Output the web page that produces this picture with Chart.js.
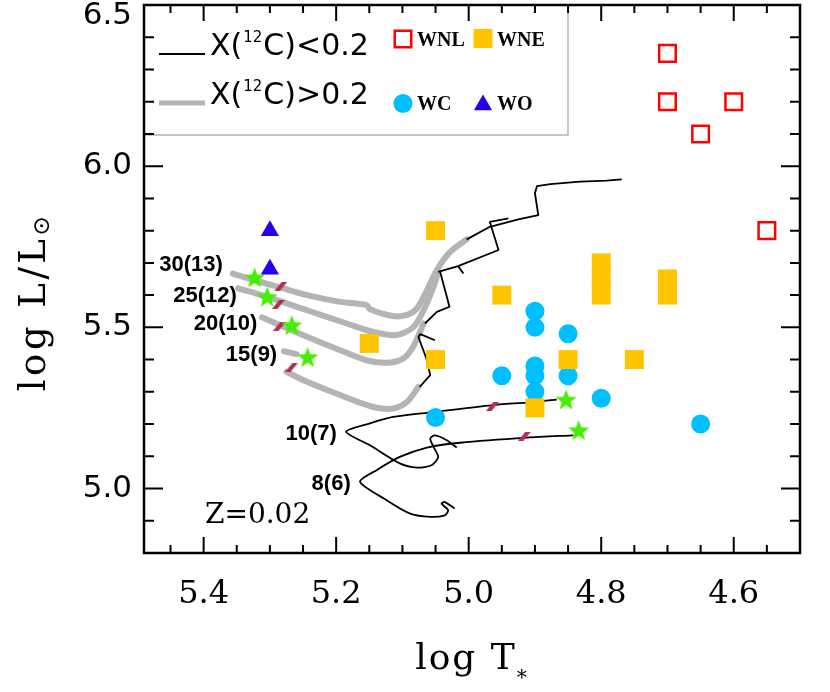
<!DOCTYPE html>
<html>
<head>
<meta charset="utf-8">
<script src="https://cdn.jsdelivr.net/npm/chart.js@4.4.1/dist/chart.umd.min.js"></script>
<style>
  html, body { margin: 0; padding: 0; background: #fff; }
</style>
</head>
<body>
<canvas id="hrd" width="830" height="692"></canvas>
<script>
// axis ticks
const xTicks = [5.4, 5.2, 5.0, 4.8, 4.6];
const yTicks = [5.0, 5.5, 6.0, 6.5];

// observed WR stars (log T*, log L)
const wnlT = [4.70, 4.70, 4.60, 4.65, 4.55];
const wnlL = [6.35, 6.20, 6.20, 6.10, 5.80];
const wneT = [5.05, 4.95, 4.80, 4.80, 4.80, 4.70, 4.70, 5.15, 5.05, 4.85, 4.75, 4.90];
const wneL = [5.80, 5.60, 5.70, 5.65, 5.60, 5.65, 5.60, 5.45, 5.40, 5.40, 5.40, 5.25];
const wcT = [4.90, 4.90, 4.85, 4.95, 4.90, 4.90, 4.90, 4.85, 4.80, 5.05, 4.65];
const wcL = [5.55, 5.50, 5.48, 5.35, 5.38, 5.35, 5.30, 5.35, 5.28, 5.22, 5.20];
const woT = [5.30, 5.30];
const woL = [5.80, 5.68];

// end of tracks (stars) and marks along tracks
const endT = [5.323, 5.304, 5.267, 5.243, 4.853, 4.834];
const endL = [5.655, 5.595, 5.507, 5.408, 5.276, 5.181];
const markT = [5.284, 5.287, 5.286, 5.267, 4.964, 4.916];
const markL = [5.626, 5.572, 5.502, 5.377, 5.255, 5.162];

// tracks: gray = X(12C)>0.2, black = X(12C)<0.2
const t30gT = [5.356, 5.320, 5.285, 5.244, 5.194, 5.154, 5.149, 5.114, 5.093, 5.078, 5.063, 5.048, 5.028, 5.003];
const t30gL = [5.667, 5.644, 5.624, 5.600, 5.579, 5.569, 5.556, 5.535, 5.539, 5.559, 5.615, 5.678, 5.734, 5.773];
const t30bT = [5.003, 4.968, 4.925, 4.895, 4.900, 4.897, 4.877, 4.832, 4.792, 4.769];
const t30bL = [5.773, 5.812, 5.835, 5.848, 5.916, 5.938, 5.944, 5.952, 5.955, 5.959];

const t25gT = [5.348, 5.305, 5.244, 5.184, 5.144, 5.109, 5.084, 5.068, 5.053, 5.046];
const t25gL = [5.621, 5.595, 5.553, 5.512, 5.486, 5.476, 5.500, 5.553, 5.626, 5.672];
const t25bT = [5.046, 5.016, 4.955, 4.968, 4.940];
const t25bL = [5.672, 5.690, 5.740, 5.827, 5.838];
const t25hT = [5.016, 5.008];
const t25hL = [5.690, 5.667];

const t20gT = [5.312, 5.285, 5.244, 5.194, 5.154, 5.124, 5.099, 5.084, 5.068];
const t20gL = [5.531, 5.507, 5.471, 5.429, 5.398, 5.390, 5.403, 5.439, 5.512];
const t20bT = [5.066, 5.048, 5.029, 5.043];
const t20bL = [5.512, 5.548, 5.564, 5.672];

const t15gT = [5.275, 5.244, 5.194, 5.144, 5.114, 5.093, 5.076];
const t15gL = [5.362, 5.331, 5.290, 5.253, 5.248, 5.269, 5.315];
const t15sT = [5.279, 5.260];
const t15sL = [5.426, 5.417];
const t15bT = [5.074, 5.058, 5.064, 5.076, 5.073, 5.051];
const t15bL = [5.315, 5.352, 5.404, 5.471, 5.479, 5.460];

const t10T = [5.018, 5.033, 5.051, 5.058, 5.053, 5.046, 5.056, 5.078, 5.104, 5.149, 5.185, 5.149, 5.114, 5.063, 4.963, 4.897, 4.867];
const t10L = [5.127, 5.150, 5.165, 5.155, 5.129, 5.098, 5.072, 5.065, 5.078, 5.134, 5.176, 5.202, 5.222, 5.235, 5.259, 5.269, 5.276];
const t8T = [5.021, 5.036, 5.041, 5.031, 5.036, 5.058, 5.088, 5.124, 5.164, 5.139, 5.104, 5.063, 5.013, 4.912, 4.842];
const t8L = [4.938, 4.958, 4.953, 4.933, 4.917, 4.912, 4.922, 4.964, 5.021, 5.057, 5.098, 5.127, 5.142, 5.158, 5.165];

// track labels: text, log T, log L (right aligned)
const trackLabels = ['30(13)', '25(12)', '20(10)', '15(9)', '10(7)', '8(6)'];
const labelT = [5.371, 5.350, 5.319, 5.289, 5.199, 5.178];
const labelL = [5.695, 5.598, 5.512, 5.414, 5.170, 5.015];

const pts = (xs, ys) => xs.map((x, i) => ({ x, y: ys[i] }));

function starImage(r, color) {
  const c = document.createElement('canvas');
  c.width = c.height = Math.ceil(2 * r + 2);
  const g = c.getContext('2d');
  g.translate(c.width / 2, c.height / 2 + 1);
  g.beginPath();
  for (let i = 0; i < 10; i++) {
    const rr = i % 2 ? r * 0.42 : r;
    const a = -Math.PI / 2 + i * Math.PI / 5;
    g.lineTo(rr * Math.cos(a), rr * Math.sin(a));
  }
  g.closePath();
  g.fillStyle = color;
  g.fill();
  return c;
}

function dashImage(color) {
  const c = document.createElement('canvas');
  c.width = 13; c.height = 9;
  const g = c.getContext('2d');
  g.fillStyle = color;
  g.beginPath();
  g.moveTo(0, 9); g.lineTo(5.5, 9); g.lineTo(13, 0); g.lineTo(7.5, 0);
  g.closePath();
  g.fill();
  return c;
}

const GRAY = '#b4b4b4';
const gray = (xs, ys) => ({ data: pts(xs, ys), showLine: true, borderColor: GRAY, borderWidth: 6,
  pointRadius: 0, tension: 0.3, borderCapStyle: 'round', borderJoinStyle: 'round', order: 6 });
const black = (xs, ys, t) => ({ data: pts(xs, ys), showLine: true, borderColor: '#000', borderWidth: 1.8,
  pointRadius: 0, tension: t || 0, borderJoinStyle: 'round', order: 5 });

const datasets = [
  gray(t30gT, t30gL), gray(t25gT, t25gL), gray(t20gT, t20gL), gray(t15gT, t15gL), gray(t15sT, t15sL),
  black(t30bT, t30bL), black(t25bT, t25bL), black(t25hT, t25hL), black(t20bT, t20bL), black(t15bT, t15bL),
  black(t10T, t10L, 0.25), black(t8T, t8L, 0.25),
  { data: pts(markT, markL), pointStyle: dashImage('#b03050'), order: 3 },
  { data: pts(endT, endL), pointStyle: starImage(11, '#44ee00'), order: 2 },
  { data: pts(wnlT, wnlL), pointStyle: 'rect', pointRadius: 11.7, pointBackgroundColor: 'rgba(0,0,0,0)',
    pointBorderColor: '#ff0000', pointBorderWidth: 2.5, order: 1 },
  { data: pts(wneT, wneL), pointStyle: 'rect', pointRadius: 13.4, pointBackgroundColor: '#ffc400',
    pointBorderWidth: 0, order: 1 },
  { data: pts(wcT, wcL), pointStyle: 'circle', pointRadius: 9.5, pointBackgroundColor: '#00bfff',
    pointBorderWidth: 0, order: 1 },
  { data: pts(woT, woL), pointStyle: 'triangle', pointRadius: 10.5, pointBackgroundColor: '#2200ee',
    pointBorderWidth: 0, order: 1 }
];

const decor = {
  id: 'decor',
  afterDatasetsDraw(chart) {
    const { ctx, scales: { x, y } } = chart;
    ctx.save();
    ctx.fillStyle = '#000';
    ctx.font = 'bold 22px "Liberation Sans"';
    ctx.textAlign = 'right';
    ctx.textBaseline = 'middle';
    trackLabels.forEach((s, i) => ctx.fillText(s, x.getPixelForValue(labelT[i]), y.getPixelForValue(labelL[i])));
    ctx.textAlign = 'left';
    ctx.textBaseline = 'alphabetic';
    ctx.font = '28px "DejaVu Serif"';
    ctx.fillText('Z=0.02', x.getPixelForValue(5.398), y.getPixelForValue(4.893));
    ctx.restore();
  },
  afterDraw(chart) {
    const { ctx, chartArea: a, scales: { x, y } } = chart;
    ctx.save();
    // legend box
    ctx.strokeStyle = '#a0a0a0';
    ctx.lineWidth = 1.2;
    ctx.strokeRect(a.left, a.top, 424, 130);
    ctx.strokeStyle = '#000'; ctx.lineWidth = 2;
    ctx.beginPath(); ctx.moveTo(159, 54); ctx.lineTo(205, 54); ctx.stroke();
    ctx.strokeStyle = GRAY; ctx.lineWidth = 5;
    ctx.beginPath(); ctx.moveTo(159, 103); ctx.lineTo(205, 103); ctx.stroke();
    ctx.fillStyle = '#000';
    const carbon = (x0, base, rel) => {
      let cx = x0;
      ctx.font = '30px "DejaVu Sans"';
      ctx.fillText('X(', cx, base); cx += ctx.measureText('X(').width + 1;
      ctx.font = '15px "DejaVu Sans"';
      ctx.fillText('12', cx, base - 13); cx += ctx.measureText('12').width + 1;
      ctx.font = '30px "DejaVu Sans"';
      ctx.fillText('C)' + rel + '0.2', cx, base);
    };
    carbon(210, 55, '<');
    carbon(210, 104, '>');
    const P = Chart.helpers.drawPoint;
    ctx.strokeStyle = '#ff0000'; ctx.lineWidth = 2.5; ctx.fillStyle = 'rgba(0,0,0,0)';
    P(ctx, { pointStyle: 'rect', radius: 11.7, borderWidth: 2.5 }, 403, 39);
    ctx.fillStyle = '#ffc400'; ctx.lineWidth = 0;
    P(ctx, { pointStyle: 'rect', radius: 13.4, borderWidth: 0 }, 483, 38.5);
    ctx.fillStyle = '#00bfff';
    P(ctx, { pointStyle: 'circle', radius: 9.5, borderWidth: 0 }, 403, 103.5);
    ctx.fillStyle = '#2200ee';
    P(ctx, { pointStyle: 'triangle', radius: 10.5, borderWidth: 0 }, 483, 105);
    ctx.fillStyle = '#000';
    ctx.font = 'bold 20px "Liberation Serif"';
    ctx.fillText('WNL', 417, 46); ctx.fillText('WNE', 497, 46);
    ctx.fillText('WC', 417, 110); ctx.fillText('WO', 497, 110);

    // frame and inward ticks
    ctx.strokeStyle = '#000';
    ctx.lineWidth = 2.5;
    ctx.strokeRect(a.left, a.top, a.right - a.left, a.bottom - a.top);
    ctx.lineWidth = 2;
    ctx.beginPath();
    for (let i = 0; i <= 19; i++) {
      const v = 4.5 + i * 0.05;
      const px = x.getPixelForValue(v);
      const len = (i % 4 === 2) ? 16 : 8;
      ctx.moveTo(px, a.bottom); ctx.lineTo(px, a.bottom - len);
      ctx.moveTo(px, a.top); ctx.lineTo(px, a.top + len);
    }
    for (let i = 0; i <= 17; i++) {
      const v = 4.8 + i * 0.1;
      const py = y.getPixelForValue(v);
      const len = (i % 5 === 2) ? 19 : 10;
      ctx.moveTo(a.left, py); ctx.lineTo(a.left + len, py);
      ctx.moveTo(a.right, py); ctx.lineTo(a.right - len, py);
    }
    ctx.stroke();

    // axis titles
    ctx.fillStyle = '#000';
    ctx.textBaseline = 'alphabetic';
    ctx.letterSpacing = '2px';
    ctx.font = '36px "DejaVu Serif"';
    const w1 = ctx.measureText('log T').width;
    ctx.font = '20px "DejaVu Serif"';
    const w2 = ctx.measureText('*').width;
    const sx = (a.left + a.right) / 2 - (w1 + w2) / 2;
    ctx.font = '36px "DejaVu Serif"';
    ctx.fillText('log T', sx, 669);
    ctx.font = '20px "DejaVu Serif"';
    ctx.fillText('*', sx + w1, 684);

    ctx.save();
    ctx.translate(45, 302);
    ctx.rotate(-Math.PI / 2);
    ctx.letterSpacing = '3.5px';
    ctx.font = '37px "DejaVu Serif"';
    const m1 = ctx.measureText('log L/L').width;
    ctx.font = '23px "DejaVu Sans"';
    const m2 = ctx.measureText('\u2299').width;
    ctx.font = '37px "DejaVu Serif"';
    ctx.fillText('log L/L', -(m1 + m2) / 2, 0);
    ctx.font = '23px "DejaVu Sans"';
    ctx.fillText('\u2299', -(m1 + m2) / 2 + m1, 4);
    ctx.restore();
    ctx.restore();
  }
};

new Chart(document.getElementById('hrd'), {
  type: 'scatter',
  data: { datasets },
  plugins: [decor],
  options: {
    responsive: false,
    animation: false,
    devicePixelRatio: 1,
    events: [],
    layout: { padding: { left: 0, top: 5, right: 30, bottom: 0 }, autoPadding: false },
    plugins: { legend: { display: false }, tooltip: { enabled: false } },
    scales: {
      x: {
        type: 'linear', reverse: true, min: 4.5, max: 5.49,
        afterBuildTicks: s => { s.ticks = xTicks.map(v => ({ value: v })); },
        afterFit: s => { s.height = 139; s.paddingLeft = 0; s.paddingRight = 0; },
        grid: { display: false, drawTicks: false },
        border: { display: false },
        ticks: { autoSkip: false, maxRotation: 0, padding: 22, color: '#000',
          font: { family: 'DejaVu Serif', size: 32 }, callback: v => v.toFixed(1) }
      },
      y: {
        type: 'linear', min: 4.8, max: 6.5,
        afterBuildTicks: s => { s.ticks = yTicks.map(v => ({ value: v })); },
        afterFit: s => { s.width = 144; s.paddingTop = 0; s.paddingBottom = 0; },
        grid: { display: false, drawTicks: false },
        border: { display: false },
        ticks: { autoSkip: false, padding: 12, color: '#000',
          font: { family: 'DejaVu Sans', size: 31, lineHeight: 0.71 },
          callback: v => v === 6.5 ? ['', '6.5'] : v.toFixed(1) }
      }
    }
  }
});
</script>
</body>
</html>
